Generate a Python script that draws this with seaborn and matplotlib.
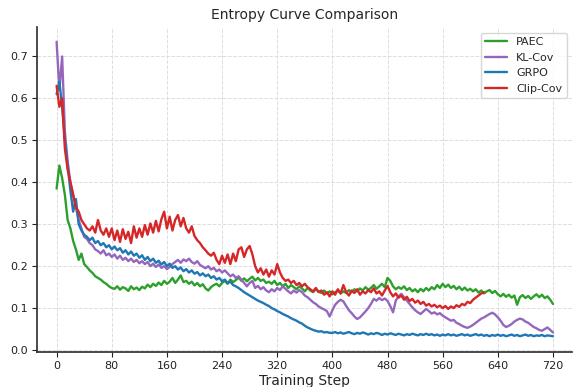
import numpy as np
import pandas as pd
import matplotlib
matplotlib.use("Agg")
import matplotlib.pyplot as plt
import seaborn as sns

STEP = 4  # sampling interval of the logged values (training steps)

paec = [
    0.385, 0.44, 0.41, 0.37, 0.31, 0.29, 0.26, 0.24, 0.215, 0.23,
    0.205, 0.198, 0.19, 0.184, 0.176, 0.172, 0.168, 0.162, 0.158, 0.152,
    0.148, 0.146, 0.152, 0.144, 0.15, 0.147, 0.141, 0.152, 0.145, 0.149,
    0.143, 0.151, 0.147, 0.156, 0.15, 0.158, 0.153, 0.161, 0.155, 0.165,
    0.158, 0.163, 0.172, 0.16, 0.168, 0.178, 0.162, 0.165, 0.158, 0.163,
    0.154, 0.16, 0.152, 0.157, 0.147, 0.142, 0.15, 0.155, 0.158, 0.152,
    0.16, 0.165, 0.158, 0.168, 0.162, 0.167, 0.173, 0.165, 0.171, 0.164,
    0.17, 0.175, 0.166, 0.172, 0.165, 0.168, 0.16, 0.163, 0.158, 0.165,
    0.155, 0.16, 0.152, 0.158, 0.148, 0.155, 0.15, 0.145, 0.152, 0.147,
    0.14, 0.148, 0.142, 0.138, 0.145, 0.14, 0.136, 0.142, 0.135, 0.14,
    0.133, 0.138, 0.142, 0.135, 0.14, 0.136, 0.143, 0.138, 0.145, 0.14,
    0.147, 0.142, 0.15, 0.144, 0.148, 0.155, 0.146, 0.152, 0.158, 0.15,
    0.172, 0.165, 0.152, 0.145, 0.15, 0.146, 0.152, 0.143, 0.148, 0.14,
    0.145, 0.138, 0.146, 0.14, 0.148, 0.142, 0.15, 0.145, 0.155, 0.148,
    0.158, 0.15, 0.156, 0.148, 0.153, 0.145, 0.151, 0.143, 0.149, 0.142,
    0.146, 0.14, 0.145, 0.137, 0.142, 0.135, 0.14, 0.143, 0.136, 0.141,
    0.133, 0.128, 0.134, 0.127, 0.132, 0.125, 0.13, 0.108, 0.126, 0.131,
    0.124, 0.129, 0.122, 0.128, 0.133, 0.126, 0.132, 0.124, 0.128, 0.12,
    0.11,
]

kl_cov = [
    0.735, 0.62, 0.70, 0.52, 0.45, 0.40, 0.37, 0.34, 0.31, 0.29,
    0.27, 0.265, 0.255, 0.25, 0.24, 0.236, 0.23, 0.238, 0.226, 0.23,
    0.222, 0.228, 0.218, 0.225, 0.215, 0.22, 0.212, 0.218, 0.21, 0.215,
    0.207, 0.212, 0.205, 0.21, 0.2, 0.206, 0.198, 0.204, 0.196, 0.2,
    0.193, 0.198, 0.205, 0.21, 0.215, 0.208, 0.216, 0.212, 0.218, 0.21,
    0.206, 0.212, 0.203, 0.199, 0.195, 0.2, 0.192, 0.196, 0.188, 0.192,
    0.185, 0.19, 0.183, 0.176, 0.18, 0.172, 0.176, 0.168, 0.16, 0.152,
    0.16, 0.165, 0.148, 0.153, 0.145, 0.15, 0.142, 0.138, 0.145, 0.14,
    0.148, 0.143, 0.152, 0.146, 0.14, 0.135, 0.142, 0.137, 0.143, 0.138,
    0.13, 0.126, 0.12, 0.114, 0.11, 0.104, 0.1, 0.097, 0.093, 0.08,
    0.095, 0.108, 0.115, 0.12, 0.116, 0.105, 0.095, 0.088, 0.08, 0.074,
    0.078, 0.085, 0.092, 0.1, 0.11, 0.122, 0.118, 0.124, 0.119, 0.123,
    0.117, 0.105, 0.09, 0.118, 0.128, 0.134, 0.126, 0.118, 0.11, 0.102,
    0.095, 0.09, 0.086, 0.092, 0.098, 0.093, 0.087, 0.09, 0.085, 0.088,
    0.082, 0.078, 0.074, 0.07, 0.072, 0.065, 0.062, 0.058, 0.055, 0.053,
    0.056, 0.06, 0.065, 0.07, 0.075, 0.078, 0.082, 0.086, 0.089, 0.085,
    0.078, 0.07, 0.06, 0.055, 0.058, 0.062, 0.068, 0.072, 0.075, 0.073,
    0.068, 0.065, 0.06, 0.055, 0.052, 0.048, 0.046, 0.05, 0.054, 0.048,
    0.042,
]

grpo = [
    0.61, 0.64, 0.58, 0.50, 0.44, 0.38, 0.33, 0.36, 0.30, 0.285,
    0.275, 0.27, 0.262, 0.268, 0.255, 0.26, 0.25, 0.255, 0.245, 0.25,
    0.24, 0.247, 0.238, 0.243, 0.232, 0.238, 0.228, 0.235, 0.225, 0.23,
    0.22, 0.226, 0.215, 0.222, 0.212, 0.218, 0.208, 0.213, 0.204, 0.21,
    0.2, 0.206, 0.196, 0.2, 0.192, 0.197, 0.188, 0.193, 0.185, 0.19,
    0.182, 0.186, 0.178, 0.183, 0.176, 0.18, 0.172, 0.176, 0.168, 0.172,
    0.164, 0.168, 0.16, 0.163, 0.155, 0.152, 0.148, 0.143, 0.138, 0.134,
    0.13, 0.126, 0.122, 0.118, 0.115, 0.112, 0.108, 0.105, 0.1, 0.097,
    0.093, 0.09, 0.086, 0.083, 0.08, 0.076, 0.073, 0.07, 0.066, 0.063,
    0.058, 0.054, 0.051, 0.048, 0.046, 0.044, 0.045, 0.042, 0.043, 0.041,
    0.041, 0.043, 0.04, 0.042, 0.039, 0.041, 0.043, 0.04, 0.038, 0.041,
    0.039, 0.042, 0.04, 0.037, 0.04, 0.038, 0.041, 0.039, 0.036, 0.039,
    0.037, 0.04, 0.038, 0.036, 0.039, 0.037, 0.035, 0.038, 0.036, 0.039,
    0.037, 0.035, 0.038, 0.036, 0.039, 0.036, 0.038, 0.035, 0.037, 0.034,
    0.037, 0.035, 0.038, 0.035, 0.037, 0.034, 0.036, 0.038, 0.035, 0.037,
    0.034, 0.036, 0.038, 0.035, 0.037, 0.034, 0.036, 0.033, 0.036, 0.034,
    0.037, 0.034, 0.036, 0.033, 0.035, 0.037, 0.034, 0.036, 0.033, 0.035,
    0.037, 0.034, 0.036, 0.033, 0.035, 0.034, 0.036, 0.033, 0.035, 0.034,
    0.033,
]

clip_cov = [
    0.63, 0.58, 0.60, 0.48, 0.43, 0.40, 0.37, 0.34, 0.33, 0.31,
    0.30, 0.29, 0.285, 0.295, 0.28, 0.31, 0.285, 0.275, 0.29, 0.27,
    0.29, 0.262, 0.285, 0.258, 0.288, 0.265, 0.282, 0.255, 0.295, 0.268,
    0.29, 0.27, 0.298, 0.275, 0.302, 0.28, 0.308, 0.283, 0.312, 0.33,
    0.29, 0.318, 0.285, 0.31, 0.322, 0.295, 0.315, 0.29, 0.28, 0.295,
    0.272, 0.262, 0.255, 0.245, 0.238, 0.23, 0.225, 0.232, 0.215, 0.205,
    0.225, 0.208, 0.228, 0.205, 0.23, 0.212, 0.24, 0.245, 0.222, 0.24,
    0.248, 0.228, 0.20, 0.185, 0.195, 0.18, 0.192, 0.175, 0.19, 0.18,
    0.205, 0.185, 0.172, 0.165, 0.168, 0.16, 0.165, 0.155, 0.16, 0.152,
    0.158, 0.15, 0.145, 0.14, 0.148, 0.138, 0.142, 0.132, 0.138, 0.128,
    0.14, 0.132, 0.145, 0.135, 0.155, 0.138, 0.13, 0.142, 0.136, 0.145,
    0.132, 0.14, 0.135, 0.143, 0.138, 0.147, 0.135, 0.14, 0.13, 0.142,
    0.153, 0.138, 0.128, 0.135, 0.125, 0.13, 0.12, 0.127, 0.117, 0.122,
    0.113, 0.118, 0.11, 0.115, 0.106, 0.11, 0.104, 0.108, 0.102, 0.106,
    0.10, 0.105, 0.098, 0.104, 0.10, 0.107, 0.103, 0.11, 0.107, 0.115,
    0.112, 0.12, 0.125, 0.13, 0.135, 0.138,
]

methods = ["PAEC", "KL-Cov", "GRPO", "Clip-Cov"]
series = [paec, kl_cov, grpo, clip_cov]
colors = ["#2ca02c", "#9467bd", "#1f77b4", "#d62728"]
x_ticks = [0, 80, 160, 240, 320, 400, 480, 560, 640, 720]

frames = []
for name, vals in zip(methods, series):
    frames.append(pd.DataFrame({
        "step": np.arange(len(vals)) * STEP,
        "entropy": vals,
        "method": name,
    }))
df = pd.concat(frames, ignore_index=True)

sns.set_theme(style="ticks")
plt.rcParams["font.family"] = ["DejaVu Sans"]

fig, ax = plt.subplots(figsize=(5.74, 3.87), dpi=100)
sns.lineplot(data=df, x="step", y="entropy", hue="method", hue_order=methods,
             palette=dict(zip(methods, colors)), linewidth=1.7,
             estimator=None, ax=ax)

ax.set_title("Entropy Curve Comparison", fontsize=10)
ax.set_xlabel("Training Step", fontsize=10, labelpad=2)
ax.set_ylabel("")
ax.set_xticks(x_ticks)
ax.set_xlim(-28, 748)
ax.set_ylim(-0.005, 0.77)
ax.tick_params(labelsize=8, colors="#222222", length=3.5, width=0.8, pad=3)
ax.grid(True, linestyle="--", color="#dddddd", linewidth=0.7)
ax.set_axisbelow(True)
sns.despine(ax=ax)
for s in ["left", "bottom"]:
    ax.spines[s].set_color("#333333")
leg = ax.legend(loc="upper right", fontsize=8, frameon=True)
leg.get_frame().set_edgecolor("#cccccc")

fig.subplots_adjust(left=0.065, right=0.997, top=0.93, bottom=0.09)
fig.savefig("out.png", dpi=100)
